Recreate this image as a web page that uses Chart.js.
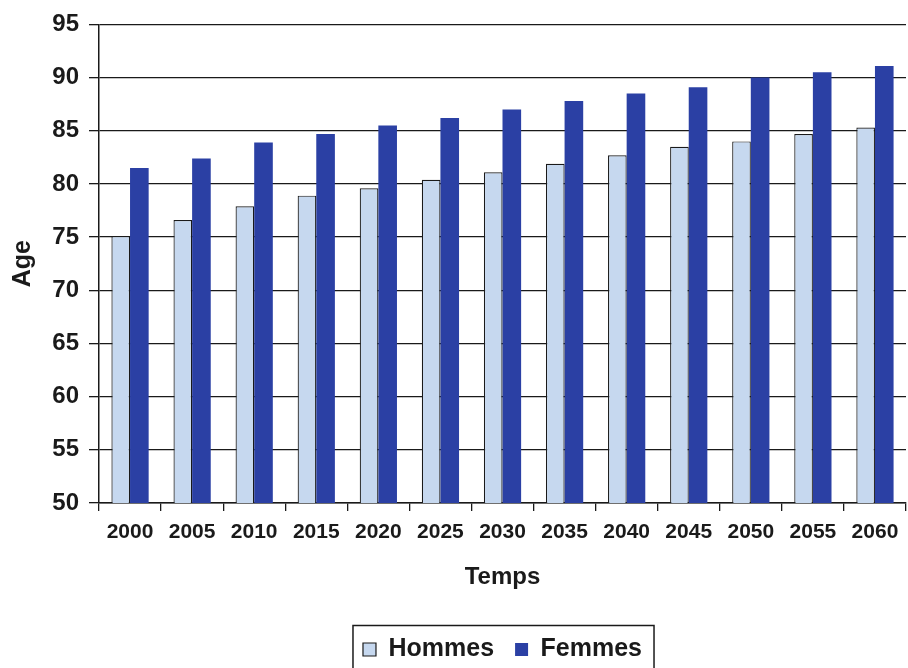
<!DOCTYPE html>
<html>
<head>
<meta charset="utf-8">
<script src="https://cdn.jsdelivr.net/npm/chart.js@4"></script>
<style>
  html, body { margin: 0; padding: 0; background: #ffffff; }
  #wrap { width: 908px; height: 668px; }
</style>
</head>
<body>
<div id="wrap"><canvas id="ageChart" width="908" height="668"></canvas></div>
<script>
const years = ['2000', '2005', '2010', '2015', '2020', '2025', '2030', '2035', '2040', '2045', '2050', '2055', '2060'];
const hommes = [75.1, 76.6, 77.9, 78.9, 79.6, 80.4, 81.1, 81.9, 82.7, 83.5, 84.0, 84.7, 85.3];
const femmes = [81.5, 82.4, 83.9, 84.7, 85.5, 86.2, 87.0, 87.8, 88.5, 89.1, 90.0, 90.5, 91.1];
const yTicks = [50, 55, 60, 65, 70, 75, 80, 85, 90, 95];

const fontFamily = '"Liberation Sans", Arial, Helvetica, sans-serif';
const ink = '#1a1a1a';

// draws the frame round the legend, like the original
const legendFrame = {
    id: 'legendFrame',
    afterDraw(chart) {
        const lg = chart.legend;
        if (!lg || !lg.legendHitBoxes || !lg.legendHitBoxes.length) return;
        const boxes = lg.legendHitBoxes;
        const left = Math.min(...boxes.map(b => b.left)) - 10;
        const right = Math.max(...boxes.map(b => b.left + b.width)) + 12;
        const midY = boxes[0].top + boxes[0].height / 2;
        const ctx = chart.ctx;
        ctx.save();
        ctx.strokeStyle = ink;
        ctx.lineWidth = 1.5;
        ctx.strokeRect(left, midY - 24, right - left, 60);
        ctx.restore();
    }
};

const ctx = document.getElementById('ageChart').getContext('2d');

const ageChart = new Chart(ctx, {
    type: 'bar',
    data: {
        labels: years,
        datasets: [
            {
                label: 'Hommes',
                data: hommes,
                backgroundColor: '#c6d8ef',
                borderColor: ink,
                borderWidth: 1.2,
                borderSkipped: 'bottom',
            },
            {
                label: 'Femmes',
                data: femmes,
                backgroundColor: '#2b40a4',
                borderWidth: 0,
            },
        ]
    },
    plugins: [legendFrame],
    options: {
        responsive: false,
        animation: false,
        layout: {
            padding: { top: 24, right: 2, left: 0, bottom: -4 }
        },
        datasets: {
            bar: {
                categoryPercentage: 0.6,
                barPercentage: 1.0
            }
        },
        plugins: {
            tooltip: { enabled: false },
            legend: {
                position: 'bottom',
                fullSize: false,
                labels: {
                    color: ink,
                    font: { family: fontFamily, size: 25, weight: 'bold' },
                    boxWidth: 13,
                    boxHeight: 13,
                    padding: 21
                }
            }
        },
        scales: {
            x: {
                offset: true,
                afterFit(scale) { scale.height = 113; },
                grid: {
                    display: true,
                    offset: true,
                    drawOnChartArea: false,
                    drawTicks: true,
                    tickLength: 8,
                    color: ink,
                    lineWidth: 1.3
                },
                border: { display: true, color: ink, width: 1.5 },
                ticks: {
                    color: ink,
                    padding: 9,
                    maxRotation: 0,
                    autoSkip: false,
                    font: { family: fontFamily, size: 21, weight: 'bold' }
                },
                title: {
                    display: true,
                    text: 'Temps',
                    color: ink,
                    padding: { top: 0, bottom: 24 },
                    font: { family: fontFamily, size: 24, weight: 'bold' }
                }
            },
            y: {
                min: 50,
                max: 95,
                afterFit(scale) { scale.width = 99; },
                afterBuildTicks(scale) {
                    scale.ticks = yTicks.map(v => ({ value: v }));
                },
                grid: {
                    color: ink,
                    lineWidth: 1.3,
                    drawTicks: true,
                    tickLength: 10
                },
                border: { display: true, color: ink, width: 1.5 },
                ticks: {
                    color: ink,
                    padding: 10,
                    font: { family: fontFamily, size: 24, weight: 'bold' }
                },
                title: {
                    display: true,
                    text: 'Age',
                    color: ink,
                    padding: { top: 8, bottom: 0 },
                    font: { family: fontFamily, size: 25, weight: 'bold' }
                }
            }
        }
    }
});
</script>
</body>
</html>
